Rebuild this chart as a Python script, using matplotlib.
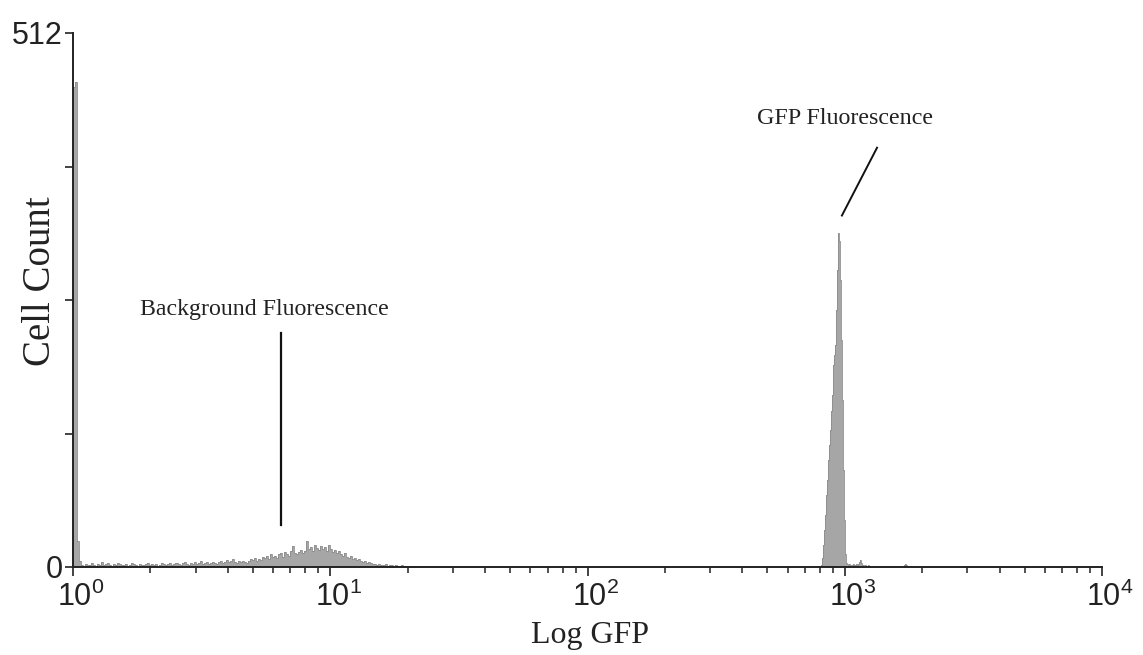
import matplotlib
matplotlib.use("Agg")
import matplotlib.pyplot as plt
import matplotlib.transforms as mtransforms
from matplotlib.ticker import LogLocator, FixedLocator, FixedFormatter
import numpy as np

# ---------------- data ----------------
CHANNELS_PER_DECADE = 256

# background region: bins 2 channels wide starting at channel 0
bg_start_channel = 0
bg_bin_width = 2
bg_counts = [
    460, 465, 25, 6,
    2, 1, 3, 2, 2, 4, 2, 1, 3, 2, 5, 2, 3, 4, 2, 1,
    3, 2, 4, 3, 2, 2, 3, 1, 2, 4, 3, 2, 1, 3, 2, 2,
    3, 4, 2, 3, 2, 3, 1, 2, 4, 3, 2, 3, 4, 2, 3, 4,
    3, 2, 4, 5, 3, 2, 4, 3, 5, 3, 4, 6, 3, 4, 5, 3,
    4, 5, 4, 3, 5, 6, 4, 5, 7, 5, 6, 8, 5, 4, 6, 5,
    6, 5, 4, 6, 8, 7, 9, 6, 8, 7, 10, 9, 11, 8, 12, 10,
    11, 9, 12, 13, 10, 14, 12, 11, 15, 20, 13, 12, 14, 16, 13, 15,
    25, 17, 19, 15, 21, 18, 16, 20, 17, 19, 15, 21, 17, 14, 16, 13,
    15, 12, 11, 13, 10, 9, 11, 8, 9, 7, 8, 6, 5, 6, 4, 5,
    4, 3, 3, 2, 3, 2, 2, 3, 1, 2, 2, 1, 2, 1, 1, 2,
    1, 1, 0, 1, 1, 0, 0, 1, 0, 0, 1, 0,
]

# GFP peak region: single-channel bins
gfp_start_channel = 744
gfp_bin_width = 1
gfp_counts = [
    2, 9, 21, 35, 50, 69, 83, 103, 117, 131, 150, 165, 194, 203, 213, 246,
    285, 320, 313, 275, 218, 160, 93, 45, 12, 4,
    3, 2, 3, 2, 1, 2, 3, 2, 2, 3, 2, 3, 5, 7, 4, 2, 2, 1, 2, 1, 1, 2, 1, 1,
]

# small tail bump
tail_start_channel = 826
tail_bin_width = 1
tail_counts = [1, 2, 3, 2, 1]

y_ticks = [0, 128, 256, 384, 512]
y_tick_labels = ["0", "", "", "", "512"]
x_major = [1, 10, 100, 1000, 10000]
x_tick_labels = [r"$\mathregular{10^0}$", r"$\mathregular{10^1}$",
                 r"$\mathregular{10^2}$", r"$\mathregular{10^3}$",
                 r"$\mathregular{10^4}$"]

label_bg = "Background Fluorescence"
label_gfp = "GFP Fluorescence"
x_label = "Log GFP"
y_label = "Cell Count"

# ---------------- figure ----------------
plt.rcParams["font.family"] = ["Liberation Sans", "DejaVu Sans"]
fig = plt.figure(figsize=(11.43, 6.55), dpi=100)
ax = fig.add_axes([73 / 1143, 1 - 567 / 655, (1102 - 73) / 1143, (567 - 33) / 655])

fill_col = "#a6a6a6"
edge_col = "#8c8c8c"


def draw_segment(start, width, counts):
    n = len(counts)
    ch_edges = start + width * np.arange(n + 1)
    edges = 10.0 ** (ch_edges / CHANNELS_PER_DECADE)
    ax.stairs(counts, edges, fill=True, facecolor=fill_col, edgecolor=fill_col,
              linewidth=0)
    ax.stairs(counts, edges, fill=False, color=edge_col, linewidth=0.6)


draw_segment(bg_start_channel, bg_bin_width, bg_counts)
draw_segment(gfp_start_channel, gfp_bin_width, gfp_counts)
draw_segment(tail_start_channel, tail_bin_width, tail_counts)

ax.set_xscale("log")
ax.set_xlim(1, 1e4)
ax.set_ylim(0, 512)

ax.xaxis.set_major_locator(FixedLocator(x_major))
ax.xaxis.set_major_formatter(FixedFormatter(x_tick_labels))
ax.xaxis.set_minor_locator(LogLocator(base=10, subs=np.arange(2, 10), numticks=20))
ax.xaxis.set_minor_formatter(FixedFormatter([]))
ax.yaxis.set_major_locator(FixedLocator(y_ticks))
ax.yaxis.set_major_formatter(FixedFormatter(y_tick_labels))

for s in ["top", "right"]:
    ax.spines[s].set_visible(False)
for s in ["left", "bottom"]:
    ax.spines[s].set_linewidth(1.4)
    ax.spines[s].set_color("#222222")

ax.tick_params(axis="x", which="major", direction="out", length=6.5, width=1.2,
               labelsize=22, pad=4, colors="#222222")
ax.tick_params(axis="x", which="minor", direction="out", length=4.5, width=1.1,
               colors="#222222")
ax.tick_params(axis="y", which="major", direction="out", length=5.5, width=1.2,
               labelsize=22, pad=2, colors="#222222")

# shift x tick labels so the "10" sits over the tick
offset = mtransforms.ScaledTranslation(8 / 100, 0, fig.dpi_scale_trans)
for lab in ax.get_xticklabels():
    lab.set_transform(lab.get_transform() + offset)

serif = ["Liberation Serif", "DejaVu Serif"]

# annotations
ax.plot([6.44, 6.44], [40, 224], color="#111111", linewidth=1.6)
ax.text(5.53, 247, label_bg, family=serif, fontsize=17.2, ha="center", va="center",
        color="#222222")
ax.plot([975, 1335], [337, 402], color="#111111", linewidth=1.4)
ax.text(1002, 430, label_gfp, family=serif, fontsize=17.3, ha="center", va="center",
        color="#222222")

fig.text(590 / 1143, 1 - 635 / 655, x_label, family=serif, fontsize=23,
         ha="center", va="center", color="#222222")
fig.text(40 / 1143, 1 - 281 / 655, y_label, family=serif, fontsize=28,
         ha="center", va="center", rotation=90, color="#222222")

fig.savefig("out.png", dpi=100)
